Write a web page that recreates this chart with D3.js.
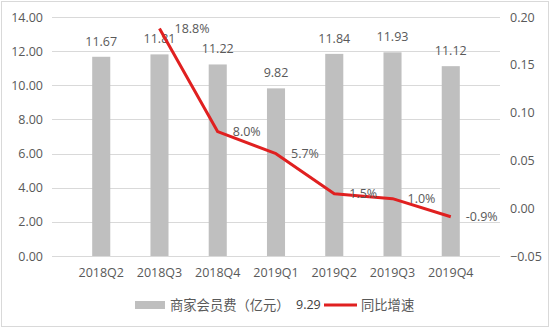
<!DOCTYPE html>
<html>
<head>
<meta charset="utf-8">
<script src="https://cdn.jsdelivr.net/npm/d3@7"></script>
<style>
  html, body { margin: 0; padding: 0; background: #fff; }
  svg { display: block; }
  text { font-family: "Open Sans", "Noto Sans", "Noto Sans CJK SC", sans-serif; fill: #595959; }
</style>
</head>
<body>
<svg id="chart" width="550" height="328"></svg>
<script>
// Quarterly merchant membership fees (亿元) and year-on-year growth
const categories = ["2018Q2", "2018Q3", "2018Q4", "2019Q1", "2019Q2", "2019Q3", "2019Q4"];
const fees = [11.67, 11.81, 11.22, 9.82, 11.84, 11.93, 11.12];
const growth = [null, 0.188, 0.080, 0.057, 0.015, 0.010, -0.009];
const growthLabels = ["", "18.8%", "8.0%", "5.7%", "1.5%", "1.0%", "-0.9%"];
const leftTicks = [0, 2, 4, 6, 8, 10, 12, 14];
const rightTicks = [-0.05, 0, 0.05, 0.10, 0.15, 0.20];
const legendBar = "商家会员费（亿元）";
const legendExtra = "9.29";
const legendLine = "同比增速";

const svg = d3.select("#chart");
const W = 550, H = 328;
const m = { left: 52, right: 50, top: 17, bottom: 72 };
const plotW = W - m.left - m.right;

// outer frame
svg.append("rect")
  .attr("x", 1.5).attr("y", 1.5).attr("width", W - 3).attr("height", H - 3)
  .attr("fill", "none").attr("stroke", "#d9d9d9").attr("stroke-width", 1);

const x = d3.scaleBand().domain(categories).range([m.left, m.left + plotW]).padding(0.69);
const yL = d3.scaleLinear().domain([0, 14]).range([256, 17]);
const yR = d3.scaleLinear().domain([-0.05, 0.20]).range([256, 17]);

// gridlines
svg.append("g").selectAll("line").data(leftTicks).join("line")
  .attr("x1", m.left).attr("x2", m.left + plotW)
  .attr("y1", d => Math.round(yL(d)) + 0.5).attr("y2", d => Math.round(yL(d)) + 0.5)
  .attr("stroke", "#d9d9d9").attr("stroke-width", 1);

// left axis
const leftAxis = svg.append("g")
  .attr("transform", `translate(${m.left},0)`)
  .call(d3.axisLeft(yL).tickValues(leftTicks).tickFormat(d3.format(".2f")).tickSize(0).tickPadding(9));
leftAxis.select(".domain").remove();
leftAxis.selectAll("text").style("font-size", "12.5px").attr("fill", "#595959");

// right axis
const rightAxis = svg.append("g")
  .attr("transform", `translate(${m.left + plotW},0)`)
  .call(d3.axisRight(yR).tickValues(rightTicks).tickFormat(d3.format(".2f")).tickSize(0).tickPadding(10));
rightAxis.select(".domain").remove();
rightAxis.selectAll("text").style("font-size", "12.5px").attr("fill", "#595959");

// bottom axis
const bottomAxis = svg.append("g")
  .attr("transform", `translate(0,256)`)
  .call(d3.axisBottom(x).tickSize(0).tickPadding(12));
bottomAxis.select(".domain").remove();
bottomAxis.selectAll("text").style("font-size", "12.5px").attr("fill", "#595959");

// bars
svg.append("g").selectAll("rect").data(fees).join("rect")
  .attr("x", (d, i) => x(categories[i]))
  .attr("width", x.bandwidth())
  .attr("y", d => yL(d))
  .attr("height", d => yL(0) - yL(d))
  .attr("fill", "#bfbfbf");

// bar value labels
svg.append("g").selectAll("text").data(fees).join("text")
  .attr("x", (d, i) => x(categories[i]) + x.bandwidth() / 2)
  .attr("y", d => yL(d) - 11)
  .attr("text-anchor", "middle")
  .style("font-size", "12.5px")
  .text(d => d.toFixed(2));

// growth line
const pts = growth.map((g, i) => ({ g, c: categories[i], label: growthLabels[i] })).filter(p => p.g !== null);
const cx = c => x(c) + x.bandwidth() / 2;
svg.append("path")
  .datum(pts)
  .attr("fill", "none")
  .attr("stroke", "#e02020")
  .attr("stroke-width", 3)
  .attr("stroke-linejoin", "round")
  .attr("d", d3.line().x(p => cx(p.c)).y(p => yR(p.g)));

// growth labels
svg.append("g").selectAll("text").data(pts).join("text")
  .attr("x", p => cx(p.c) + 15)
  .attr("y", p => yR(p.g))
  .attr("dy", "0.35em")
  .style("font-size", "12.5px")
  .text(p => p.label);

// legend
const lg = svg.append("g");
lg.append("rect").attr("x", 135).attr("y", 301).attr("width", 30).attr("height", 8).attr("fill", "#bfbfbf");
lg.append("text").attr("x", 170).attr("y", 305).attr("dy", "0.35em")
  .style("font-family", "'Noto Sans CJK SC', sans-serif").style("font-size", "13.3px").text(legendBar);
lg.append("text").attr("x", 296).attr("y", 305).attr("dy", "0.35em")
  .attr("fill", "#404040").style("fill", "#404040")
  .style("font-size", "12.5px").text(legendExtra);
lg.append("line").attr("x1", 324).attr("x2", 357).attr("y1", 305).attr("y2", 305)
  .attr("stroke", "#e02020").attr("stroke-width", 3);
lg.append("text").attr("x", 361).attr("y", 305).attr("dy", "0.35em")
  .style("font-family", "'Noto Sans CJK SC', sans-serif").style("font-size", "13.3px").text(legendLine);
</script>
</body>
</html>
